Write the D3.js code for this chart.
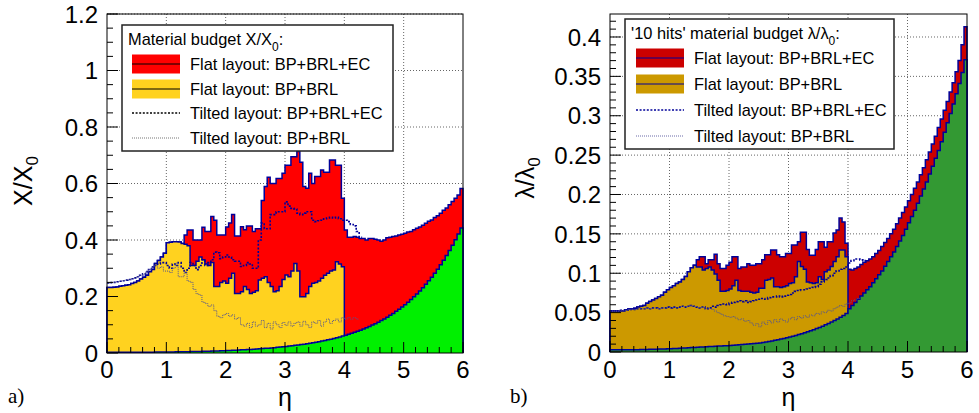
<!DOCTYPE html>
<html>
<head>
<meta charset="utf-8">
<script src="https://cdn.jsdelivr.net/npm/d3@7"></script>
<style>
body { margin: 0; background: #fff; }
svg { display: block; font-family: "Liberation Sans", Arial, Helvetica, sans-serif; }
</style>
</head>
<body>
<svg width="979" height="413"></svg>
<script>
// histograms: 120 bins of 0.05 in eta, from 0 to 6
var binWidth = 0.05;

// ---- a) X/X0 ----
var leftGreen = [
  0.0023,0.0023,0.0023,0.0023,0.0023,0.0023,0.0024,0.0024,0.0025,0.0025,
  0.0026,0.0026,0.0027,0.0028,0.0029,0.0030,0.0031,0.0032,0.0033,0.0034,
  0.0035,0.0037,0.0038,0.0040,0.0042,0.0043,0.0045,0.0047,0.0049,0.0052,
  0.0054,0.0057,0.0059,0.0062,0.0065,0.0068,0.0072,0.0075,0.0079,0.0083,
  0.0087,0.0091,0.0096,0.0100,0.0105,0.0111,0.0116,0.0122,0.0128,0.0135,
  0.0141,0.0149,0.0156,0.0164,0.0172,0.0181,0.0190,0.0200,0.0210,0.0221,
  0.0232,0.0244,0.0257,0.0270,0.0283,0.0298,0.0313,0.0329,0.0346,0.0364,
  0.0382,0.0402,0.0422,0.0444,0.0467,0.0491,0.0516,0.0542,0.0570,0.0599,
  0.0630,0.0662,0.0696,0.0732,0.0769,0.0809,0.0850,0.0894,0.0940,0.0988,
  0.1038,0.1092,0.1148,0.1206,0.1268,0.1333,0.1402,0.1474,0.1549,0.1629,
  0.1712,0.1800,0.1892,0.1989,0.2091,0.2198,0.2311,0.2430,0.2555,0.2685,
  0.2823,0.2968,0.3120,0.3279,0.3448,0.3625,0.3810,0.4006,0.4211,0.4427];
var leftYellow = [
  0.232,0.232,0.233,0.234,0.236,0.238,0.240,0.242,0.246,0.250,
  0.255,0.262,0.268,0.275,0.288,0.296,0.317,0.327,0.340,0.353,
  0.390,0.392,0.394,0.394,0.393,0.388,0.385,0.380,0.310,0.310,
  0.325,0.340,0.330,0.315,0.310,0.320,0.235,0.235,0.250,0.255,
  0.247,0.265,0.282,0.211,0.211,0.217,0.235,0.225,0.211,0.215,
  0.220,0.258,0.265,0.270,0.250,0.235,0.217,0.220,0.235,0.260,
  0.276,0.270,0.290,0.317,0.290,0.199,0.199,0.211,0.235,0.247,
  0.250,0.255,0.265,0.275,0.282,0.290,0.294,0.323,0.315,0.305];
var leftRed = [
  0.232,0.232,0.233,0.234,0.236,0.238,0.240,0.242,0.246,0.250,
  0.255,0.262,0.268,0.275,0.288,0.296,0.317,0.327,0.340,0.353,
  0.390,0.392,0.394,0.394,0.393,0.388,0.418,0.435,0.435,0.400,
  0.400,0.400,0.445,0.430,0.430,0.483,0.470,0.418,0.418,0.418,
  0.446,0.460,0.490,0.414,0.414,0.447,0.436,0.450,0.450,0.430,
  0.440,0.440,0.540,0.589,0.622,0.600,0.600,0.618,0.618,0.636,
  0.665,0.665,0.695,0.695,0.713,0.675,0.589,0.583,0.636,0.600,
  0.625,0.625,0.648,0.640,0.640,0.683,0.683,0.665,0.665,0.548,
  0.435,0.410,0.410,0.412,0.410,0.405,0.405,0.400,0.405,0.405,
  0.403,0.400,0.396,0.400,0.408,0.410,0.412,0.414,0.418,0.420,
  0.424,0.428,0.430,0.436,0.442,0.446,0.452,0.459,0.466,0.471,
  0.480,0.486,0.495,0.505,0.513,0.525,0.536,0.548,0.559,0.582];
var leftTiltTotal = [
  0.248,0.249,0.250,0.252,0.254,0.256,0.258,0.260,0.263,0.266,
  0.270,0.275,0.280,0.288,0.295,0.305,0.310,0.315,0.320,0.320,
  0.310,0.300,0.315,0.310,0.320,0.300,0.285,0.300,0.320,0.310,
  0.295,0.310,0.330,0.310,0.320,0.330,0.357,0.355,0.334,0.340,
  0.347,0.340,0.330,0.325,0.325,0.306,0.310,0.320,0.315,0.300,
  0.300,0.400,0.460,0.440,0.440,0.490,0.490,0.500,0.500,0.500,
  0.535,0.520,0.512,0.510,0.495,0.490,0.495,0.500,0.500,0.470,
  0.465,0.468,0.470,0.475,0.478,0.480,0.478,0.480,0.475,0.470,
  0.470,0.465,0.455,0.450,0.430,0.410];
var leftTiltBrl = [
  0.248,0.249,0.250,0.252,0.254,0.256,0.258,0.260,0.263,0.266,
  0.270,0.275,0.280,0.288,0.295,0.305,0.310,0.300,0.305,0.290,
  0.290,0.285,0.300,0.318,0.270,0.270,0.285,0.255,0.250,0.225,
  0.210,0.205,0.180,0.175,0.165,0.170,0.150,0.130,0.125,0.135,
  0.140,0.130,0.135,0.120,0.125,0.100,0.095,0.105,0.090,0.110,
  0.095,0.100,0.115,0.090,0.105,0.085,0.110,0.100,0.090,0.108,
  0.098,0.110,0.095,0.105,0.110,0.095,0.112,0.100,0.090,0.110,
  0.105,0.115,0.095,0.110,0.120,0.105,0.115,0.120,0.110,0.125,
  0.120,0.125,0.120,0.125,0.120];

// ---- b) lambda/lambda0 ----
var rightGreen = [
  0.0030,0.0030,0.0030,0.0030,0.0030,0.0030,0.0030,0.0030,0.0030,0.0030,
  0.0031,0.0032,0.0033,0.0034,0.0035,0.0036,0.0037,0.0038,0.0039,0.0040,
  0.0042,0.0044,0.0046,0.0048,0.0050,0.0052,0.0054,0.0056,0.0058,0.0061,
  0.0063,0.0065,0.0067,0.0069,0.0071,0.0073,0.0075,0.0077,0.0079,0.0080,
  0.0083,0.0086,0.0089,0.0092,0.0095,0.0098,0.0101,0.0104,0.0107,0.0110,
  0.0115,0.0121,0.0127,0.0134,0.0141,0.0148,0.0156,0.0164,0.0172,0.0181,
  0.0190,0.0200,0.0210,0.0221,0.0232,0.0244,0.0256,0.0269,0.0283,0.0297,
  0.0312,0.0328,0.0345,0.0362,0.0380,0.0400,0.0420,0.0442,0.0465,0.0490,
  0.055,0.059,0.063,0.067,0.071,0.075,0.079,0.083,0.088,0.093,
  0.098,0.103,0.109,0.115,0.121,0.127,0.134,0.141,0.148,0.156,
  0.164,0.172,0.180,0.189,0.198,0.207,0.216,0.226,0.236,0.246,
  0.256,0.267,0.279,0.291,0.303,0.315,0.328,0.341,0.355,0.371];
var rightYellow = [
  0.052,0.052,0.052,0.052,0.052,0.0535,0.0546,0.0546,0.0555,0.057,
  0.058,0.059,0.062,0.064,0.066,0.068,0.070,0.072,0.076,0.079,
  0.082,0.084,0.087,0.089,0.092,0.096,0.102,0.107,0.110,0.108,
  0.108,0.104,0.106,0.108,0.104,0.099,0.091,0.077,0.077,0.078,
  0.080,0.084,0.091,0.078,0.077,0.077,0.077,0.076,0.075,0.076,
  0.081,0.081,0.091,0.092,0.094,0.083,0.083,0.082,0.083,0.084,
  0.087,0.088,0.0955,0.115,0.1085,0.105,0.089,0.088,0.087,0.088,
  0.0955,0.092,0.102,0.104,0.1085,0.115,0.121,0.1295,0.1295,0.121];
var rightRed = [
  0.052,0.052,0.052,0.052,0.052,0.0535,0.0546,0.0546,0.0555,0.057,
  0.058,0.059,0.062,0.064,0.066,0.068,0.070,0.072,0.076,0.079,
  0.082,0.084,0.087,0.089,0.092,0.096,0.102,0.107,0.110,0.117,
  0.121,0.121,0.112,0.117,0.117,0.124,0.112,0.106,0.106,0.110,
  0.114,0.121,0.121,0.106,0.108,0.108,0.112,0.110,0.110,0.112,
  0.112,0.117,0.1235,0.1235,0.1295,0.1295,0.1235,0.121,0.121,0.125,
  0.125,0.136,0.136,0.140,0.152,0.152,0.130,0.123,0.123,0.130,
  0.140,0.140,0.133,0.140,0.140,0.151,0.155,0.170,0.165,0.138,
  0.105,0.104,0.106,0.108,0.111,0.114,0.116,0.118,0.121,0.125,
  0.129,0.134,0.139,0.144,0.150,0.156,0.163,0.170,0.177,0.184,
  0.192,0.200,0.208,0.216,0.225,0.234,0.244,0.254,0.264,0.274,
  0.285,0.296,0.307,0.318,0.330,0.342,0.356,0.370,0.390,0.413];
var rightTiltTotal = [
  0.052,0.052,0.052,0.053,0.053,0.053,0.054,0.054,0.054,0.055,
  0.055,0.055,0.056,0.055,0.056,0.056,0.055,0.056,0.056,0.057,
  0.056,0.057,0.056,0.057,0.058,0.057,0.058,0.059,0.058,0.057,
  0.056,0.057,0.055,0.056,0.058,0.057,0.059,0.060,0.061,0.060,
  0.062,0.063,0.064,0.065,0.064,0.065,0.063,0.064,0.065,0.066,
  0.067,0.068,0.067,0.069,0.070,0.070,0.071,0.070,0.071,0.072,
  0.073,0.075,0.077,0.078,0.079,0.079,0.080,0.081,0.082,0.083,
  0.086,0.089,0.092,0.094,0.097,0.100,0.103,0.105,0.106,0.108,
  0.113,0.116,0.118,0.118,0.117,0.116];
var rightTiltBrl = [
  0.052,0.052,0.052,0.053,0.053,0.053,0.054,0.054,0.054,0.055,
  0.055,0.055,0.056,0.055,0.056,0.056,0.055,0.056,0.056,0.057,
  0.056,0.057,0.056,0.057,0.058,0.057,0.058,0.059,0.058,0.057,
  0.056,0.057,0.055,0.056,0.054,0.052,0.050,0.048,0.046,0.045,
  0.044,0.045,0.043,0.041,0.042,0.039,0.040,0.037,0.034,0.036,
  0.032,0.038,0.035,0.040,0.037,0.041,0.038,0.042,0.040,0.038,
  0.042,0.044,0.041,0.045,0.043,0.046,0.044,0.047,0.046,0.049,
  0.048,0.051,0.050,0.053,0.052,0.055,0.057,0.059,0.058,0.061,
  0.062,0.065,0.066,0.068];

// tick labels
var etaTicks = [0, 1, 2, 3, 4, 5, 6];
var leftYTicks = ["0", "0.2", "0.4", "0.6", "0.8", "1", "1.2"];
var rightYTicks = ["0", "0.05", "0.1", "0.15", "0.2", "0.25", "0.3", "0.35", "0.4"];

var legendLabels = ["Flat layout: BP+BRL+EC", "Flat layout: BP+BRL",
                    "Tilted layout: BP+BRL+EC", "Tilted layout: BP+BRL"];

var svg = d3.select("svg");
var navy = "#000099";

function drawPanel(p) {
    var x = d3.scaleLinear().domain([0, 6]).range([p.left, p.right]);
    var y = d3.scaleLinear().domain([0, p.yMax]).range([p.bottom, p.top]);
    var g = svg.append("g");

    // dotted grid
    g.selectAll(".gx").data(etaTicks.slice(1, 6)).enter().append("line")
        .attr("x1", d => x(d)).attr("x2", d => x(d))
        .attr("y1", p.top).attr("y2", p.bottom)
        .attr("stroke", "#666").attr("stroke-dasharray", "1,2");
    g.selectAll(".gy").data(p.yTicks.slice(1)).enter().append("line")
        .attr("x1", p.left).attr("x2", p.right)
        .attr("y1", d => y(+d)).attr("y2", d => y(+d))
        .attr("stroke", "#666").attr("stroke-dasharray", "1,2");

    function binPts(vals) {
        var a = vals.map((v, i) => [i * binWidth, v]);
        a.push([vals.length * binWidth, vals[vals.length - 1]]);
        return a;
    }
    var area = d3.area().curve(d3.curveStepAfter)
        .x(d => x(d[0])).y0(y(0)).y1(d => y(d[1]));
    var line = d3.line().curve(d3.curveStepAfter)
        .x(d => x(d[0])).y(d => y(d[1]));

    // filled histograms, drawn back to front
    p.fills.forEach(function (h) {
        var pts = binPts(h.values);
        g.append("path").attr("d", area(pts)).attr("fill", h.color);
        var outline = [[0, 0]].concat(pts, [[pts[pts.length - 1][0], 0]]);
        g.append("path").attr("d", line(outline))
            .attr("fill", "none").attr("stroke", navy).attr("stroke-width", 1.5);
    });

    // tilted layout: dotted outlines only
    p.dotted.forEach(function (h) {
        g.append("path").attr("d", line(binPts(h.values)))
            .attr("fill", "none").attr("stroke", h.color)
            .attr("stroke-width", h.width).attr("stroke-dasharray", h.dash);
    });

    // frame
    g.append("rect").attr("x", p.left).attr("y", p.top)
        .attr("width", p.right - p.left).attr("height", p.bottom - p.top)
        .attr("fill", "none").attr("stroke", "#000").attr("stroke-width", 1);

    // ticks inside the frame
    var yMinor = d3.range(0, p.yMax + 1e-9, p.yMinorStep);
    g.selectAll(".ty").data(yMinor).enter().append("line")
        .attr("x1", p.left).attr("y1", d => y(d)).attr("y2", d => y(d))
        .attr("x2", function (d) {
            var r = d / p.yMajorStep;
            return p.left + (Math.abs(r - Math.round(r)) < 1e-6 ? 11 : 6);
        })
        .attr("stroke", "#000");
    var xMinor = d3.range(0, 6.0001, 0.2);
    g.selectAll(".tx").data(xMinor).enter().append("line")
        .attr("x1", d => x(d)).attr("x2", d => x(d)).attr("y1", p.bottom)
        .attr("y2", function (d) {
            return p.bottom - (Math.abs(d - Math.round(d)) < 1e-6 ? 11 : 6);
        })
        .attr("stroke", "#000");

    // tick labels
    g.selectAll(".ly").data(p.yTicks).enter().append("text")
        .attr("x", p.left - 9).attr("y", d => y(+d)).attr("dy", "0.36em")
        .attr("text-anchor", "end").attr("font-size", 24).text(d => d);
    g.selectAll(".lx").data(etaTicks).enter().append("text")
        .attr("x", d => x(d)).attr("y", 378)
        .attr("text-anchor", "middle").attr("font-size", 24).text(d => d);

    // axis titles
    g.append("text").attr("x", x(3)).attr("y", 406)
        .attr("text-anchor", "middle").attr("font-size", 25).text("η");
    var yt = g.append("text")
        .attr("transform", "translate(" + p.titleX + "," + p.titleY + ") rotate(-90)")
        .attr("text-anchor", "middle").attr("font-size", 25);
    yt.append("tspan").text(p.titleMain);
    yt.append("tspan").attr("font-size", 17).attr("dy", 6).text("0");

    g.append("text").attr("x", p.tagX).attr("y", 403)
        .attr("font-family", "'Liberation Serif', 'Times New Roman', serif")
        .attr("font-size", 21).text(p.tag);

    // legend
    var L = p.legend;
    g.append("rect").attr("x", L.x).attr("y", L.y).attr("width", L.w).attr("height", L.h)
        .attr("fill", "#fff").attr("stroke", "#222").attr("stroke-width", 1.5);
    var hd = g.append("text").attr("x", L.x + 6).attr("y", L.headY).attr("font-size", 16.4);
    hd.append("tspan").text(L.header);
    hd.append("tspan").attr("font-size", 12).attr("dy", 6).text("0");
    hd.append("tspan").attr("dy", -6).text(":");

    legendLabels.forEach(function (lab, i) {
        var cy = L.rowY[i];
        if (i < 2) {
            g.append("rect").attr("x", L.swX).attr("y", cy - 9.5)
                .attr("width", 48).attr("height", 19).attr("fill", p.fills[i].color);
            g.append("line").attr("x1", L.swX).attr("x2", L.swX + 48)
                .attr("y1", cy).attr("y2", cy).attr("stroke", L.lineColor).attr("stroke-width", 1.2);
        } else {
            var h = p.dotted[i - 2];
            g.append("line").attr("x1", L.swX).attr("x2", L.swX + 48)
                .attr("y1", cy).attr("y2", cy)
                .attr("stroke", i === 2 ? L.lineColor : L.thinColor)
                .attr("stroke-width", h.width).attr("stroke-dasharray", h.dash);
        }
        g.append("text").attr("x", L.swX + 58).attr("y", cy + 6)
            .attr("font-size", 16.4).text(lab);
    });
}

drawPanel({
    left: 107, right: 463, top: 14, bottom: 353, yMax: 1.2,
    yTicks: leftYTicks, yMajorStep: 0.2, yMinorStep: 0.05,
    fills: [{ values: leftRed, color: "#ff0000" },
            { values: leftYellow, color: "#ffd21f" },
            { values: leftGreen, color: "#00f000" }],
    dotted: [{ values: leftTiltTotal, color: navy, width: 1.6, dash: "2,1.6" },
             { values: leftTiltBrl, color: "#55558f", width: 1, dash: "1,1" }],
    titleMain: "X/X", titleX: 32, titleY: 181,
    tag: "a)", tagX: 8,
    legend: { x: 122, y: 25, w: 271, h: 126, headY: 45, header: "Material budget X/X",
              swX: 132, rowY: [64, 89, 113, 138], lineColor: "#000", thinColor: "#777" }
});

drawPanel({
    left: 610, right: 967, top: 14, bottom: 352, yMax: 0.4292,
    yTicks: rightYTicks, yMajorStep: 0.05, yMinorStep: 0.01,
    fills: [{ values: rightRed, color: "#cc0000" },
            { values: rightYellow, color: "#cc9900" },
            { values: rightGreen, color: "#339933" }],
    dotted: [{ values: rightTiltTotal, color: navy, width: 1.6, dash: "2,1.6" },
             { values: rightTiltBrl, color: "#55558f", width: 1, dash: "1,1" }],
    titleMain: "λ/λ", titleX: 534, titleY: 178,
    tag: "b)", tagX: 510,
    legend: { x: 625, y: 19, w: 269, h: 130, headY: 39, header: "'10 hits' material budget λ/λ",
              swX: 636, rowY: [58, 84, 110, 136], lineColor: navy, thinColor: "#6a6aa8" }
});
</script>
</body>
</html>
